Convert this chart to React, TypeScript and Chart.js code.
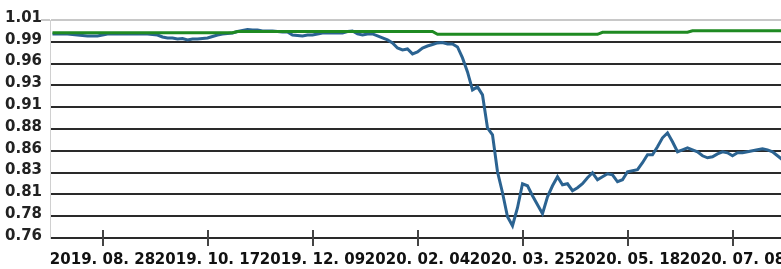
import React, { useEffect, useRef } from 'react';
import { Chart, registerables } from 'chart.js';

Chart.register(...registerables);

const X_TICK_LABELS = ['2019. 08. 28', '2019. 10. 17', '2019. 12. 09', '2020. 02. 04', '2020. 03. 25', '2020. 05. 18', '2020. 07. 08'];
const X_TICK_INDEX = [10, 31, 52, 73, 94, 115, 136];
const Y_TICK_LABELS = ['0.76', '0.78', '0.81', '0.83', '0.86', '0.88', '0.91', '0.93', '0.96', '0.99', '1.01'];
const Y_MIN = 0.76;
const Y_MAX = 1.01;

const BENCHMARK = [
  0.9955, 0.9955, 0.9955, 0.9955, 0.9955, 0.9955, 0.9955, 0.9955, 0.9955, 0.9955,
  0.9955, 0.9955, 0.9955, 0.9955, 0.9955, 0.9955, 0.9955, 0.9955, 0.9955, 0.9955,
  0.9955, 0.9955, 0.9955, 0.9955, 0.9955, 0.9955, 0.9955, 0.9955, 0.9955, 0.9955,
  0.9955, 0.9955, 0.9955, 0.9955, 0.9955, 0.9955, 0.9955,
  0.9968, 0.9968, 0.9968, 0.9968, 0.9968, 0.9968, 0.9968, 0.9968, 0.9968, 0.9968,
  0.9968, 0.9968, 0.9968, 0.9968, 0.9968, 0.9968, 0.9968, 0.9968, 0.9968, 0.9968,
  0.9968, 0.9968, 0.9968, 0.9968, 0.9968, 0.9968, 0.9968, 0.9968, 0.9968, 0.9968,
  0.9968, 0.9968, 0.9968, 0.9968, 0.9968, 0.9968, 0.9968, 0.9968, 0.9968, 0.9968,
  0.9936, 0.9936, 0.9936, 0.9936, 0.9936, 0.9936, 0.9936, 0.9936, 0.9936, 0.9936,
  0.9936, 0.9936, 0.9936, 0.9936, 0.9936, 0.9936, 0.9936, 0.9936, 0.9936, 0.9936,
  0.9936, 0.9936, 0.9936, 0.9936, 0.9936, 0.9936, 0.9936, 0.9936, 0.9936, 0.9936,
  0.9936, 0.9936, 0.9936,
  0.9959, 0.9959, 0.9959, 0.9959, 0.9959, 0.9959, 0.9959, 0.9959, 0.9959, 0.9959,
  0.9959, 0.9959, 0.9959, 0.9959, 0.9959, 0.9959, 0.9959, 0.9959,
  0.9977, 0.9977, 0.9977, 0.9977, 0.9977, 0.9977, 0.9977, 0.9977, 0.9977, 0.9977,
  0.9977, 0.9977, 0.9977, 0.9977, 0.9977, 0.9977, 0.9977, 0.9977, 0.9977,
];

const FUND = [
  0.9940, 0.9940, 0.9940, 0.9940, 0.9934, 0.9928, 0.9922, 0.9917, 0.9917, 0.9917,
  0.9928, 0.9940, 0.9940, 0.9940, 0.9940, 0.9940, 0.9940, 0.9940, 0.9940, 0.9940,
  0.9934, 0.9928, 0.9905, 0.9894, 0.9894, 0.9882, 0.9888, 0.9871, 0.9882, 0.9882,
  0.9888, 0.9894, 0.9911, 0.9928, 0.9940, 0.9945, 0.9951, 0.9968, 0.9980, 0.9991,
  0.9985, 0.9985, 0.9974, 0.9974, 0.9974, 0.9968, 0.9963, 0.9963, 0.9928, 0.9922,
  0.9917, 0.9928, 0.9928, 0.9940, 0.9951, 0.9951, 0.9951, 0.9951, 0.9951, 0.9968,
  0.9974, 0.9940, 0.9928, 0.9940, 0.9940, 0.9917, 0.9894, 0.9871, 0.9837, 0.9779,
  0.9756, 0.9768, 0.9711, 0.9734, 0.9779, 0.9802, 0.9819, 0.9837, 0.9842, 0.9825,
  0.9825, 0.9791, 0.9665, 0.9505, 0.9299, 0.9333, 0.9241, 0.8863, 0.8783, 0.8360,
  0.8119, 0.7844, 0.7741, 0.7947, 0.8222, 0.8199, 0.8085, 0.7982, 0.7879, 0.8073,
  0.8199, 0.8302, 0.8211, 0.8222, 0.8142, 0.8176, 0.8222, 0.8291, 0.8348, 0.8268,
  0.8302, 0.8337, 0.8325, 0.8245, 0.8268, 0.8360, 0.8371, 0.8383, 0.8463, 0.8554,
  0.8554, 0.8646, 0.8749, 0.8806, 0.8703, 0.8589, 0.8611, 0.8634, 0.8611, 0.8589,
  0.8543, 0.8520, 0.8531, 0.8565, 0.8589, 0.8577, 0.8543, 0.8577, 0.8577, 0.8589,
  0.8600, 0.8611, 0.8623, 0.8611, 0.8589, 0.8543, 0.8497,
];

const CATEGORIES = BENCHMARK.map((_, i) => {
  const k = X_TICK_INDEX.indexOf(i);
  return k >= 0 ? X_TICK_LABELS[k] : '';
});

const FONT = { family: '"DejaVu Sans", Arial, sans-serif', weight: 'bold' as const, size: 15 };

const tickMarks = {
  id: 'tickMarks',
  afterDraw(chart: any) {
    const { ctx, chartArea, scales } = chart;
    const xs = scales.x;
    ctx.save();
    ctx.strokeStyle = '#444';
    ctx.lineWidth = 2;
    xs.ticks.forEach((_: any, i: number) => {
      const px = Math.round(xs.getPixelForTick(i));
      ctx.beginPath();
      ctx.moveTo(px, chartArea.bottom - 8);
      ctx.lineTo(px, chartArea.bottom + 8);
      ctx.stroke();
    });
    ctx.strokeStyle = '#c8c8c8';
    ctx.beginPath();
    ctx.moveTo(chartArea.left - 9, chartArea.top);
    ctx.lineTo(chartArea.left, chartArea.top);
    ctx.stroke();
    ctx.restore();
  },
};

export default function App() {
  const ref = useRef<HTMLCanvasElement>(null);
  useEffect(() => {
    if (!ref.current) return;
    const chart = new Chart(ref.current, {
      type: 'line',
      data: {
        labels: CATEGORIES,
        datasets: [
          {
            label: 'Benchmark',
            data: BENCHMARK,
            borderColor: '#1f8a22',
            borderWidth: 3,
            pointRadius: 0,
            tension: 0,
          },
          {
            label: 'Fund',
            data: FUND,
            borderColor: '#2b6391',
            borderWidth: 3,
            pointRadius: 0,
            tension: 0,
          },
        ],
      },
      options: {
        animation: false,
        responsive: false,
        layout: { padding: { left: 0, top: 20, right: 15, bottom: 0 } },
        plugins: { legend: { display: false }, tooltip: { enabled: false }, title: { display: false } },
        scales: {
          x: {
            type: 'category',
            offset: true,
            grid: { display: false, drawTicks: false },
            border: { display: false },
            afterBuildTicks: (scale: any) => {
              scale.ticks = X_TICK_INDEX.map((v) => ({ value: v }));
            },
            afterFit: (scale: any) => {
              scale.height = 31;
            },
            ticks: {
              autoSkip: false,
              maxRotation: 0,
              minRotation: 0,
              padding: 13,
              color: '#111',
              font: FONT,
            },
          },
          y: {
            type: 'linear',
            min: Y_MIN,
            max: Y_MAX,
            afterBuildTicks: (scale: any) => {
              scale.ticks = Y_TICK_LABELS.map((_, k) => ({ value: Y_MIN + (k * (Y_MAX - Y_MIN)) / (Y_TICK_LABELS.length - 1) }));
            },
            afterFit: (scale: any) => {
              scale.width = 50;
            },
            grid: {
              drawTicks: false,
              color: (c: any) => (c.index === Y_TICK_LABELS.length - 1 ? '#c8c8c8' : '#2a2a2a'),
              lineWidth: 2,
            },
            border: { color: '#d0d0d0', width: 1 },
            ticks: {
              padding: 8,
              labelOffset: -2,
              color: '#222',
              font: FONT,
              callback: (_v: any, idx: number) => Y_TICK_LABELS[idx],
            },
          },
        },
      },
      plugins: [tickMarks],
    });
    return () => chart.destroy();
  }, []);
  return (
    <div style={{ position: 'fixed', left: 0, top: 0, width: 781, height: 269, overflow: 'hidden', background: '#fff' }}>
      <canvas ref={ref} width={800} height={269} style={{ display: 'block' }} />
    </div>
  );
}
